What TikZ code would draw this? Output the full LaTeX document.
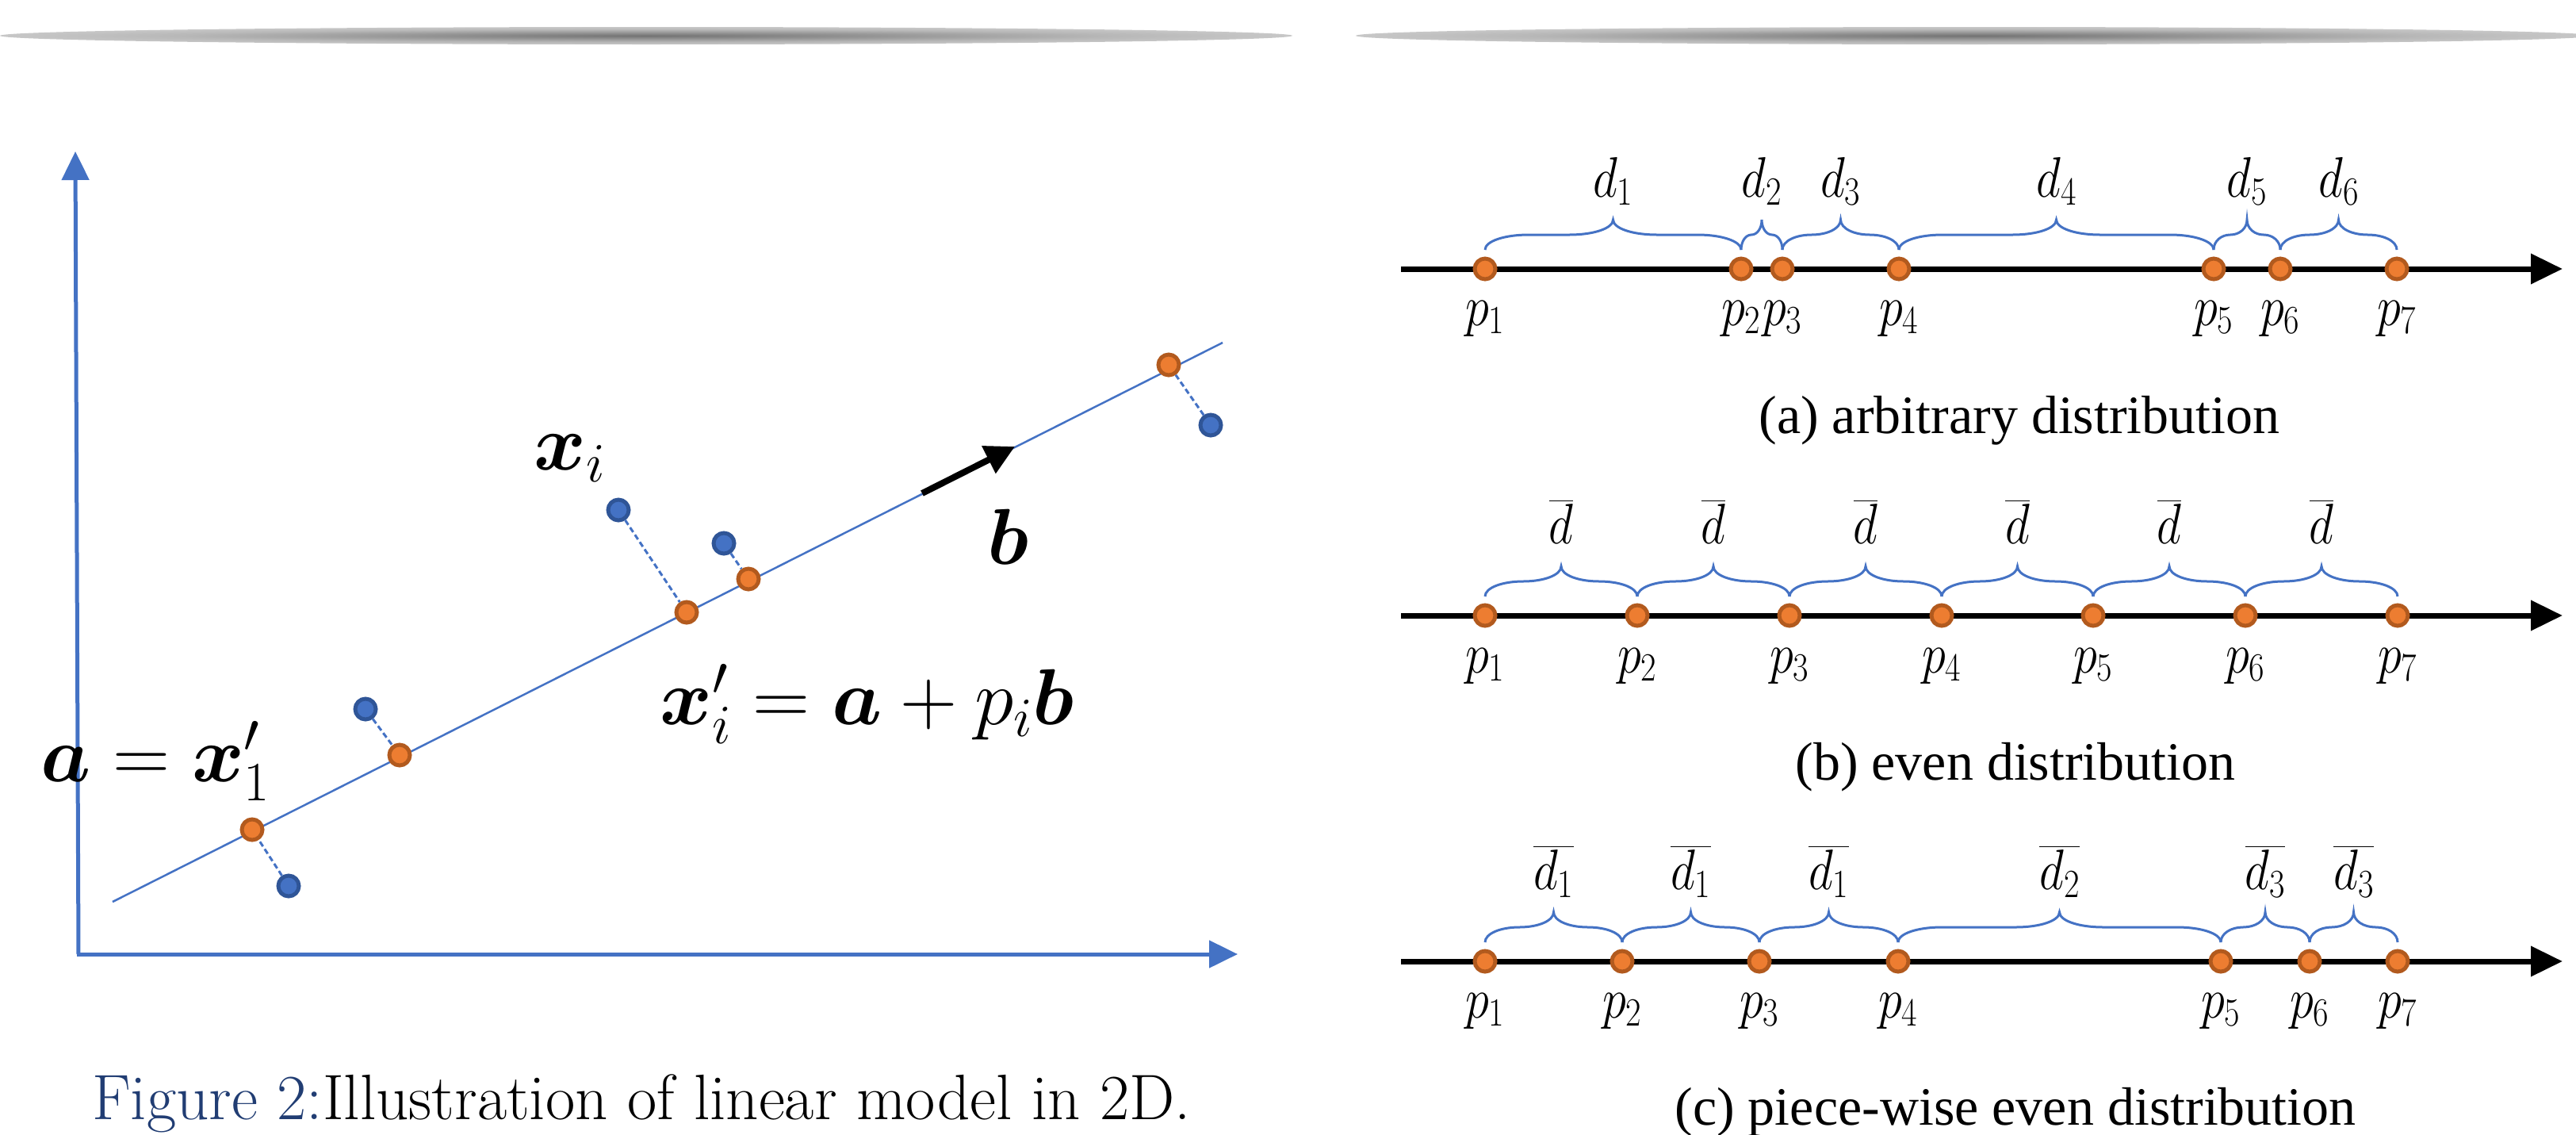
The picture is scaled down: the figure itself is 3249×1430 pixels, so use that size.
\RequirePackage{fix-cm}
\documentclass[tikz,border=0pt]{standalone}
\usepackage{amsmath}
\usepackage{fontspec}
\usepackage{graphicx}
\newfontfamily\capfont{Liberation Serif}
\usetikzlibrary{arrows.meta}
\definecolor{ofill}{HTML}{ED7D31}
\definecolor{oedge}{HTML}{B25A1E}
\definecolor{bfill}{HTML}{4472C4}
\definecolor{bedge}{HTML}{2F5597}
\definecolor{capblue}{HTML}{213D73}
\pgfdeclareradialshading{topshadow}{\pgfpoint{0bp}{0bp}}{color(0bp)=(black!55); color(18bp)=(black!28); color(50bp)=(white)}
\tikzset{
  dotstyle/.style={circle, line width=5pt, minimum size=26pt, inner sep=0pt},
  opt/.style={dotstyle, draw=oedge, fill=ofill},
  bpt/.style={dotstyle, draw=bedge, fill=bfill},
  axisline/.style={draw=bfill, line width=5pt, -{Triangle[length=36pt,width=34pt]}},
  regline/.style={draw=bfill, line width=2.5pt},
  proj/.style={draw=bfill, line width=3pt, dash pattern=on 7pt off 4pt},
  numline/.style={draw=black, line width=7pt, -{Triangle[length=40pt,width=37pt]}},
  dirarrow/.style={draw=black, line width=8pt, -{Triangle[length=37pt,width=37pt]}},
  bracestyle/.style={draw=bfill, line width=3pt},
  biglab/.style={inner sep=0pt, font=\fontsize{100}{110}\selectfont},
  lab/.style={inner sep=0pt, font=\fontsize{72}{80}\selectfont},
  capt/.style={inner sep=0pt, font=\fontsize{68}{75}\selectfont\capfont},
  figcapt/.style={inner sep=0pt, font=\fontsize{81}{90}\selectfont},
}
\newcommand{\narrowlab}[1]{\scalebox{0.84}[1]{#1}}
\newcommand{\bracelab}[5]{%
  \pgfmathsetmacro{\brC}{min((#2-#1)/4,55)}%
  \pgfmathsetmacro{\brM}{(#1+#2)/2}%
  \pgfmathsetmacro{\brB}{#3-24}%
  \pgfmathsetmacro{\brH}{#3-43}%
  \pgfmathsetmacro{\brT}{#3-62}%
  \draw[bracestyle] (#1,\brB) .. controls (#1,\brB-11) and (#1+0.45*\brC,\brH) .. (#1+\brC,\brH)
    -- (\brM-\brC,\brH) .. controls (\brM-0.45*\brC,\brH) and (\brM,\brH-8) .. (\brM,\brT)
    .. controls (\brM,\brH-8) and (\brM+0.45*\brC,\brH) .. (\brM+\brC,\brH)
    -- (#2-\brC,\brH) .. controls (#2-0.45*\brC,\brH) and (#2,\brB-11) .. (#2,\brB);
  \node[lab, anchor=base] (#5) at (\brM,#3-91) {\narrowlab{#4}};
}
\begin{document}
\begin{tikzpicture}[x=1pt, y=-1pt]
\useasboundingbox (0,0) rectangle (3249,1430);
% top shadows
\shade[shading=topshadow] (815,45) ellipse [x radius=815pt, y radius=11pt];
\shade[shading=topshadow] (2490,45) ellipse [x radius=780pt, y radius=11pt];

% ---------- left panel ----------
\coordinate (org) at (99,1203);
\coordinate (ytip) at (95,191);
\coordinate (xtip) at (1561,1203);
\draw[axisline] (org) -- (ytip);
\draw[axisline] ([xshift=-2.5pt]org) -- (xtip);
\coordinate (rs) at (142,1137);
\coordinate (re) at (1542,432);
\draw[regline] (rs) -- (re);
\coordinate (bs) at (1163,622);
\coordinate (be) at (1280,563);
\draw[dirarrow] (bs) -- (be);

\node[opt] (o1) at (318,1046) {};
\node[opt] (o2) at (504,952) {};
\node[opt] (o3) at (866,772) {};
\node[opt] (o4) at (944,730) {};
\node[opt] (o5) at (1474,460) {};
\node[bpt] (q1) at (364,1117) {};
\node[bpt] (q2) at (461,894) {};
\node[bpt] (q3) at (780,643) {};
\node[bpt] (q4) at (913,685) {};
\node[bpt] (q5) at (1527,536) {};
\foreach \i in {1,...,5} \draw[proj] (q\i) -- (o\i);

\node[biglab, anchor=base west] (xi) at (673,592) {$\boldsymbol{x}_i$};
\node[biglab, anchor=base west] (blab) at (1245,711) {$\boldsymbol{b}$};
\node[biglab, anchor=base west] (eq) at (832,913) {$\boldsymbol{x}_i' = \boldsymbol{a} + p_i\boldsymbol{b}$};
\node[biglab, anchor=base west] (aeq) at (51,985) {$\boldsymbol{a} = \boldsymbol{x}_1'$};
\node[figcapt, anchor=base west] (figcap) at (116,1411) {\textcolor{capblue}{Figure 2:}Illustration of linear model in 2D.};

% ---------- right panel ----------
% (a)
\coordinate (las) at (1767,339);
\coordinate (lae) at (3232,339);
\draw[numline] (las) -- (lae);
\foreach \x [count=\i] in {1873,2196,2248,2395,2792,2876,3023}{
  \node[opt] (pa\i) at (\x,339) {};
  \node[lab, anchor=base] (pla\i) at (\x,410) {\narrowlab{$p_{\i}$}};
}
\bracelab{1873}{2196}{339}{$d_1$}{da1}
\bracelab{2196}{2248}{339}{$d_2$}{da2}
\bracelab{2248}{2395}{339}{$d_3$}{da3}
\bracelab{2395}{2792}{339}{$d_4$}{da4}
\bracelab{2792}{2876}{339}{$d_5$}{da5}
\bracelab{2876}{3023}{339}{$d_6$}{da6}
\node[capt, anchor=base] (capa) at (2547,546) {(a) arbitrary distribution};

% (b)
\coordinate (lbs) at (1767,776);
\coordinate (lbe) at (3232,776);
\draw[numline] (lbs) -- (lbe);
\foreach \x [count=\i] in {1873,2065,2257,2449,2640,2832,3024}{
  \node[opt] (pb\i) at (\x,776) {};
  \node[lab, anchor=base] (plb\i) at (\x,848) {\narrowlab{$p_{\i}$}};
}
\bracelab{1873}{2065}{776}{$\overline{d}$}{db1}
\bracelab{2065}{2257}{776}{$\overline{d}$}{db2}
\bracelab{2257}{2449}{776}{$\overline{d}$}{db3}
\bracelab{2449}{2640}{776}{$\overline{d}$}{db4}
\bracelab{2640}{2832}{776}{$\overline{d}$}{db5}
\bracelab{2832}{3024}{776}{$\overline{d}$}{db6}
\node[capt, anchor=base] (capb) at (2542,983) {(b) even distribution};

% (c)
\coordinate (lcs) at (1767,1212);
\coordinate (lce) at (3232,1212);
\draw[numline] (lcs) -- (lce);
\foreach \x [count=\i] in {1873,2046,2219,2394,2801,2913,3024}{
  \node[opt] (pc\i) at (\x,1212) {};
  \node[lab, anchor=base] (plc\i) at (\x,1283) {\narrowlab{$p_{\i}$}};
}
\bracelab{1873}{2046}{1212}{$\overline{d_1}$}{dc1}
\bracelab{2046}{2219}{1212}{$\overline{d_1}$}{dc2}
\bracelab{2219}{2394}{1212}{$\overline{d_1}$}{dc3}
\bracelab{2394}{2801}{1212}{$\overline{d_2}$}{dc4}
\bracelab{2801}{2913}{1212}{$\overline{d_3}$}{dc5}
\bracelab{2913}{3024}{1212}{$\overline{d_3}$}{dc6}
\node[capt, anchor=base] (capc) at (2542,1418) {(c) piece-wise even distribution};
\end{tikzpicture}
\end{document}
